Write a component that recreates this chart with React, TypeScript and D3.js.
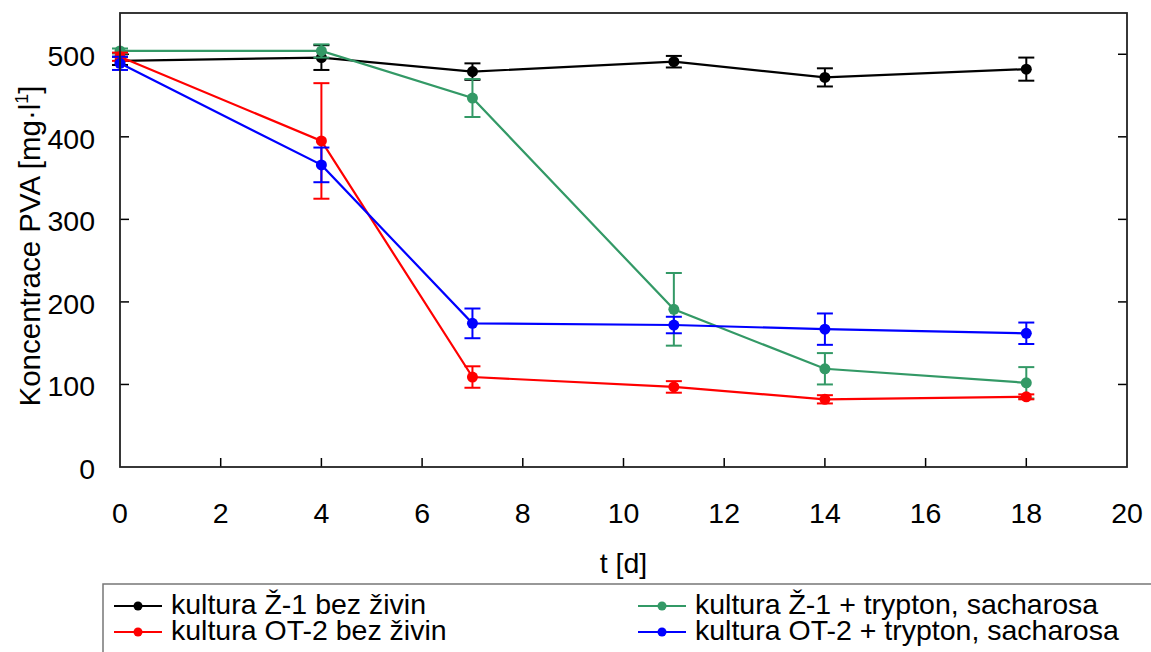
import React from "react";
import * as d3 from "d3";

// Sampling days
const days = [0, 4, 7, 11, 14, 18];

// PVA concentration [mg/l] and standard deviations per culture
const z1Plain = [492, 496, 479, 491, 472, 482];
const z1PlainErr = [5, 15, 10, 7, 11, 14];
const z1Fed = [504, 504, 447, 191, 119, 102];
const z1FedErr = [3, 8, 23, 44, 19, 19];
const ot2Plain = [497, 395, 109, 97, 82, 85];
const ot2PlainErr = [5, 70, 13, 7, 5, 3];
const ot2Fed = [489, 366, 174, 172, 167, 162];
const ot2FedErr = [8, 21, 18, 10, 19, 13];

const xTicks = [0, 2, 4, 6, 8, 10, 12, 14, 16, 18, 20];
const yTicks = [0, 100, 200, 300, 400, 500];

const seriesNames = [
  "kultura Ž-1 bez živin",
  "kultura OT-2 bez živin",
  "kultura Ž-1 + trypton, sacharosa",
  "kultura OT-2 + trypton, sacharosa",
];

const W = 1151;
const H = 652;
const M = { left: 120, right: 1127, top: 13, bottom: 467 };
const FONT = "'Liberation Sans', Arial, sans-serif";

export default function App() {
  const x = d3.scaleLinear().domain([0, 20]).range([M.left, M.right]);
  const y = d3.scaleLinear().domain([0, 550]).range([M.bottom, M.top]);

  const series = [
    { name: seriesNames[0], color: "#000000", vals: z1Plain, err: z1PlainErr },
    { name: seriesNames[2], color: "#339966", vals: z1Fed, err: z1FedErr },
    { name: seriesNames[1], color: "#ff0000", vals: ot2Plain, err: ot2PlainErr },
    { name: seriesNames[3], color: "#0000ff", vals: ot2Fed, err: ot2FedErr },
  ];

  const line = d3
    .line<[number, number]>()
    .x((d) => x(d[0]))
    .y((d) => y(d[1]));

  const legendItems = [
    { name: seriesNames[0], color: "#000000", lx: 114, ly: 606 },
    { name: seriesNames[1], color: "#ff0000", lx: 114, ly: 632 },
    { name: seriesNames[2], color: "#339966", lx: 638, ly: 606 },
    { name: seriesNames[3], color: "#0000ff", lx: 638, ly: 632 },
  ];

  return (
    <svg
      width={W}
      height={H}
      style={{ position: "absolute", left: 0, top: 0, display: "block", background: "#fff" }}
      fontFamily={FONT}
    >
      {/* y ticks, left and right, pointing inward */}
      {yTicks.slice(1).map((t) => (
        <g key={"yt" + t} stroke="#000" strokeWidth={1.5}>
          <line x1={M.left} x2={M.left + 9} y1={y(t)} y2={y(t)} />
          <line x1={M.right} x2={M.right - 9} y1={y(t)} y2={y(t)} />
        </g>
      ))}
      {/* x ticks along the bottom */}
      {xTicks.slice(1, -1).map((t) => (
        <line
          key={"xt" + t}
          x1={x(t)}
          x2={x(t)}
          y1={M.bottom}
          y2={M.bottom - 9}
          stroke="#000"
          strokeWidth={1.5}
        />
      ))}

      {/* tick labels */}
      {yTicks.map((t) => (
        <text key={"yl" + t} x={95} y={y(t) + 12} textAnchor="end" fontSize={28.5} fill="#000">
          {t}
        </text>
      ))}
      {xTicks.map((t) => (
        <text key={"xl" + t} x={x(t)} y={523} textAnchor="middle" fontSize={28.5} fill="#000">
          {t}
        </text>
      ))}

      {/* axis titles */}
      <text x={(M.left + M.right) / 2} y={573} textAnchor="middle" fontSize={28.5} fill="#000">
        t [d]
      </text>
      <text
        transform={`translate(40, 246) rotate(-90)`}
        textAnchor="middle"
        fontSize={29.5}
        fill="#000"
      >
        Koncentrace PVA [mg·l
        <tspan fontSize={18} dy={-12}>
          1
        </tspan>
        <tspan dy={12}>]</tspan>
      </text>

      {/* series */}
      {series.map((s) => {
        const pts = days.map((d, i) => [d, s.vals[i]] as [number, number]);
        return (
          <g key={s.name}>
            <path d={line(pts) || ""} fill="none" stroke={s.color} strokeWidth={2.2} />
            {days.map((d, i) => {
              const cx = x(d);
              const hi = y(s.vals[i] + s.err[i]);
              const lo = y(s.vals[i] - s.err[i]);
              return (
                <g key={i} stroke={s.color} strokeWidth={2}>
                  <line x1={cx} x2={cx} y1={hi} y2={lo} />
                  <line x1={cx - 8} x2={cx + 8} y1={hi} y2={hi} />
                  <line x1={cx - 8} x2={cx + 8} y1={lo} y2={lo} />
                  <circle cx={cx} cy={y(s.vals[i])} r={5.5} fill={s.color} stroke="none" />
                </g>
              );
            })}
          </g>
        );
      })}

      {/* plot frame */}
      <rect
        x={M.left}
        y={M.top}
        width={M.right - M.left}
        height={M.bottom - M.top}
        fill="none"
        stroke="#222"
        strokeWidth={1.8}
      />

      {/* legend box */}
      <rect x={103} y={584} width={1100} height={100} fill="#fff" stroke="#777" strokeWidth={1.5} />
      {legendItems.map((it) => (
        <g key={it.name}>
          <line x1={it.lx} x2={it.lx + 48} y1={it.ly} y2={it.ly} stroke={it.color} strokeWidth={2.2} />
          <circle cx={it.lx + 24} cy={it.ly} r={4.5} fill={it.color} />
          <text x={it.lx + 57} y={it.ly + 8} fontSize={28.5} fill="#000">
            {it.name}
          </text>
        </g>
      ))}
    </svg>
  );
}
